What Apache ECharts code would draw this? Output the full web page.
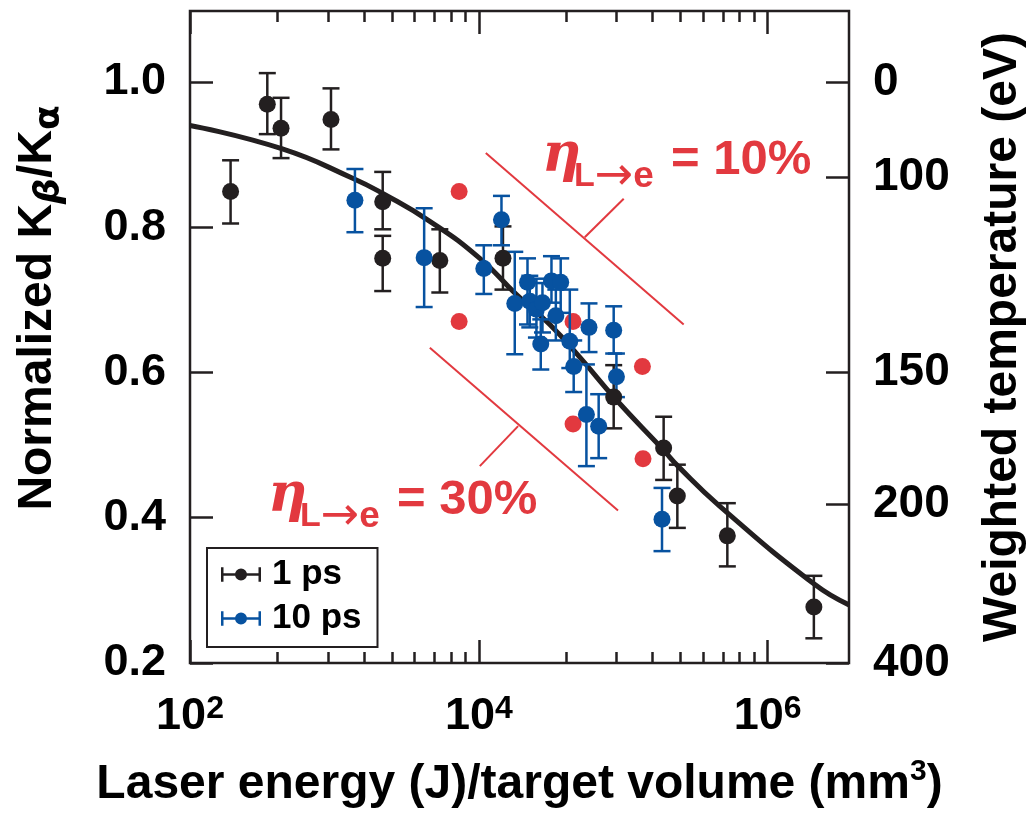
<!DOCTYPE html>
<html>
<head>
<meta charset="utf-8">
<script src="https://cdn.jsdelivr.net/npm/echarts@6/dist/echarts.min.js"></script>
<style>
  html, body { margin: 0; padding: 0; background: #ffffff; }
  #chart { width: 1035px; height: 818px; }
</style>
</head>
<body>
<div id="chart"></div>
<script>
// Laser energy per target volume (J/mm^3) and normalized Kβ/Kα, with error limits.
const energy1ps = [191, 343, 427, 947, 2160, 2160, 5370, 14700, 85900, 190500, 237000, 526000, 2090000];
const ratio1ps  = [0.849, 0.969, 0.936, 0.948, 0.835, 0.757, 0.754, 0.757, 0.566, 0.496, 0.430, 0.375, 0.277];
const upper1ps  = [0.892, 1.012, 0.978, 0.991, 0.876, 0.788, 0.797, 0.801, 0.610, 0.539, 0.473, 0.420, 0.320];
const lower1ps  = [0.805, 0.928, 0.895, 0.907, 0.797, 0.712, 0.710, 0.714, 0.523, 0.452, 0.386, 0.333, 0.234];

const energy10ps = [1387, 4183, 10830, 14350, 17740, 21730, 22540, 25060, 27590, 31850, 36900,
                    34150, 26860, 42660, 57940, 85900, 45400, 89740, 55600, 67600, 185600];
const ratio10ps  = [0.837, 0.758, 0.743, 0.810, 0.695, 0.724, 0.698, 0.687, 0.696, 0.726, 0.724,
                    0.678, 0.639, 0.643, 0.662, 0.658, 0.608, 0.594, 0.542, 0.526, 0.398];
const upper10ps  = [0.880, 0.826, 0.775, 0.843, 0.766, 0.757, 0.733, 0.729, 0.723, 0.760, 0.757,
                    0.714, 0.673, 0.714, 0.695, 0.691, 0.644, 0.626, 0.611, 0.570, 0.441];
const lower10ps  = [0.793, 0.690, 0.708, 0.775, 0.625, 0.666, 0.662, 0.648, 0.655, 0.696, 0.682,
                    0.644, 0.604, 0.606, 0.628, 0.626, 0.573, 0.566, 0.471, 0.482, 0.354];

// Points without error bars
const energyRed = [7306, 7306, 44940, 135800, 44940, 137100];
const ratioRed  = [0.849, 0.670, 0.670, 0.608, 0.529, 0.481];

// Fitted trend curve
const fitEnergy = [100, 431, 1349, 2178, 4581, 10160, 18240, 30990, 49970, 89740, 188400, 239300, 465300, 2090000, 3660000];
const fitRatio  = [0.940, 0.908, 0.867, 0.846, 0.808, 0.757, 0.707, 0.666, 0.621, 0.562, 0.494, 0.471, 0.416, 0.309, 0.280];

// Conversion-efficiency guide lines (η = 10 % and 30 %)
const eta10Line = [[11180, 0.902], [262200, 0.666]];
const eta10Tick = [[54150, 0.786], [100800, 0.839]];
const eta30Line = [[4580, 0.634], [92000, 0.410]];
const eta30Tick = [[18710, 0.526], [10160, 0.471]];

// Axis ticks
const xMajorTicks = [100, 10000, 1000000];
const xMinorTicks = [400, 900, 1600, 2500, 3600, 4900, 6400, 8100,
                     40000, 90000, 160000, 250000, 360000, 490000, 640000, 810000];
const ratioTicks  = [0.2, 0.4, 0.6, 0.8, 1.0];
const tempLabels  = [0, 100, 150, 200, 400];     // weighted temperature (eV)
const tempAtRatio = [1.0, 0.869, 0.600, 0.418, 0.2];

const INK = '#231f20';
const BLUE = '#0752a0';
const RED = '#e2393f';
const FONT = '"Liberation Sans", Arial, Helvetica, sans-serif';

const chart = echarts.init(document.getElementById('chart'), null, { renderer: 'canvas' });

function errorBarItem(params, api) {
  const x = api.value(0);
  const lo = api.coord([x, api.value(1)]);
  const hi = api.coord([x, api.value(2)]);
  const half = 8.5;
  const style = { stroke: api.visual('color'), lineWidth: 2.5 };
  return {
    type: 'group',
    children: [
      { type: 'line', shape: { x1: lo[0], y1: lo[1], x2: hi[0], y2: hi[1] }, style },
      { type: 'line', shape: { x1: lo[0] - half, y1: lo[1], x2: lo[0] + half, y2: lo[1] }, style },
      { type: 'line', shape: { x1: hi[0] - half, y1: hi[1], x2: hi[0] + half, y2: hi[1] }, style }
    ]
  };
}

const legendIcon = 'path://M0,7H40V9.5H0Z M0,1H2.5V15.5H0Z M37.5,1H40V15.5H37.5Z M14,8.25A6,6 0 1,1 26,8.25A6,6 0 1,1 14,8.25Z';

const xBase = { type: 'log', logBase: 10, min: 100, max: 3660000, gridIndex: 0,
                axisLine: { show: false }, splitLine: { show: false }, minorTick: { show: false } };
const tickLine = { color: INK, width: 2.5 };

function etaLabel(x, y, pct) {
  // η with subscript "L→e" followed by "= pct"
  return {
    type: 'group', left: x, top: y, silent: true,
    children: [
      { type: 'text', x: 0, y: 0,
        style: { text: 'η', fill: RED, font: 'italic bold 54px "DejaVu Serif", serif', verticalAlign: 'middle', align: 'left' } },
      { type: 'text', x: 32, y: 20,
        style: { text: '{l|L}{a|→}{e|e}', fill: RED, verticalAlign: 'middle', align: 'left',
                 rich: {
                   l: { fontFamily: FONT, fontWeight: 'bold', fontSize: 34, fill: RED },
                   a: { fontFamily: '"DejaVu Sans", sans-serif', fontSize: 46, fill: RED },
                   e: { fontFamily: FONT, fontWeight: 'bold', fontSize: 37, fill: RED }
                 } } },
      { type: 'text', x: 129, y: 3,
        style: { text: '= ' + pct + '%', fill: RED, font: 'bold 49px ' + FONT, verticalAlign: 'middle', align: 'left' } }
    ]
  };
}

const nameMain = { fontFamily: FONT, fontWeight: 'bold', fontSize: 48, color: '#000', verticalAlign: 'top', lineHeight: 54 };
const nameSub = { fontFamily: '"DejaVu Sans", sans-serif', fontWeight: 'bold', fontSize: 36, color: '#000', verticalAlign: 'bottom', lineHeight: 14 };

const option = {
  backgroundColor: '#ffffff',
  animation: false,
  grid: { left: 190, right: 186, top: 11, bottom: 150, show: true,
          borderColor: INK, borderWidth: 2.5, backgroundColor: 'transparent' },
  legend: {
    left: 207, top: 548, orient: 'vertical',
    data: [{ name: '1 ps', icon: legendIcon }, { name: '10 ps', icon: legendIcon }],
    itemWidth: 40, itemHeight: 16, itemGap: 9,
    padding: [9, 16, 11, 14],
    borderColor: INK, borderWidth: 2, backgroundColor: '#ffffff',
    selectedMode: false,
    textStyle: { fontFamily: FONT, fontWeight: 'bold', fontSize: 35, color: '#000', padding: [0, 0, 0, 6] }
  },
  xAxis: [
    Object.assign({}, xBase, {
      position: 'bottom',
      axisTick: { show: true, inside: true, length: 23, lineStyle: tickLine, customValues: xMajorTicks },
      axisLabel: { show: true, customValues: xMajorTicks, margin: 30,
        formatter: v => '10{sup|' + Math.round(Math.log10(v)) + '}',
        fontFamily: FONT, fontWeight: 'bold', fontSize: 45, color: '#000', lineHeight: 48,
        rich: { sup: { fontFamily: FONT, fontWeight: 'bold', fontSize: 32, color: '#000', verticalAlign: 'top', lineHeight: 17 } } },
      name: 'Laser energy (J)/target volume (mm{sup|3})',
      nameLocation: 'middle', nameGap: 94,
      nameTextStyle: { fontFamily: FONT, fontWeight: 'bold', fontSize: 48, color: '#000', lineHeight: 56,
        rich: { sup: { fontFamily: FONT, fontWeight: 'bold', fontSize: 30, color: '#000', verticalAlign: 'top', lineHeight: 30 } } }
    }),
    Object.assign({}, xBase, {
      position: 'bottom',
      axisTick: { show: true, inside: true, length: 11, lineStyle: tickLine, customValues: xMinorTicks },
      axisLabel: { show: false }
    }),
    Object.assign({}, xBase, {
      position: 'top',
      axisTick: { show: true, inside: true, length: 23, lineStyle: tickLine, customValues: xMajorTicks },
      axisLabel: { show: false }
    }),
    Object.assign({}, xBase, {
      position: 'top',
      axisTick: { show: true, inside: true, length: 11, lineStyle: tickLine, customValues: xMinorTicks },
      axisLabel: { show: false }
    })
  ],
  yAxis: [
    {
      type: 'value', position: 'left', min: 0.2, max: 1.0975,
      axisLine: { show: false }, splitLine: { show: false },
      axisTick: { show: true, inside: true, length: 23, lineStyle: tickLine, customValues: ratioTicks },
      axisLabel: { customValues: ratioTicks, formatter: v => v.toFixed(1), margin: 24,
        fontFamily: FONT, fontWeight: 'bold', fontSize: 45, color: '#000' },
      name: '{m|Normalized K}{b|β}{m|/K}{a|α}',
      nameLocation: 'middle', nameGap: 122,
      nameTextStyle: { fontFamily: FONT, fontWeight: 'bold', fontSize: 48, color: '#000',
        padding: [0, 0, 0, 58],
        rich: {
          m: nameMain,
          b: Object.assign({}, nameSub, { fontStyle: 'italic' }),
          a: nameSub
        } }
    },
    {
      type: 'value', position: 'right', min: 0.2, max: 1.0975,
      axisLine: { show: false }, splitLine: { show: false },
      axisTick: { show: true, inside: true, length: 23, lineStyle: tickLine, customValues: tempAtRatio },
      axisLabel: { customValues: tempAtRatio, margin: 24,
        formatter: v => {
          const i = tempAtRatio.findIndex(t => Math.abs(t - v) < 1e-6);
          return i >= 0 ? String(tempLabels[i]) : '';
        },
        fontFamily: FONT, fontWeight: 'bold', fontSize: 46, color: '#000' },
      name: 'Weighted temperature (eV)',
      nameLocation: 'middle', nameGap: 130,
      nameTextStyle: { fontFamily: FONT, fontWeight: 'bold', fontSize: 48, color: '#000' }
    }
  ],
  series: [
    {
      name: 'fit', type: 'line', xAxisIndex: 0, yAxisIndex: 0, smooth: true, symbol: 'none',
      data: fitEnergy.map((e, i) => [e, fitRatio[i]]),
      lineStyle: { color: INK, width: 5 }, z: 2, silent: true
    },
    {
      type: 'lines', coordinateSystem: 'cartesian2d', xAxisIndex: 0, yAxisIndex: 0, silent: true,
      lineStyle: { color: RED, width: 2, opacity: 1, curveness: 0 },
      data: [eta10Line, eta10Tick, eta30Line, eta30Tick].map(c => ({ coords: c })), z: 2
    },
    {
      name: 'red', type: 'scatter', xAxisIndex: 0, yAxisIndex: 0, symbolSize: 17,
      itemStyle: { color: RED, opacity: 1 }, data: energyRed.map((e, i) => [e, ratioRed[i]]), z: 3
    },
    {
      name: '1 ps', type: 'scatter', xAxisIndex: 0, yAxisIndex: 0, symbolSize: 17,
      itemStyle: { color: INK, opacity: 1 }, data: energy1ps.map((e, i) => [e, ratio1ps[i]]), z: 5
    },
    {
      name: '1 ps', type: 'custom', xAxisIndex: 0, yAxisIndex: 0, renderItem: errorBarItem,
      itemStyle: { color: INK }, encode: { x: 0, y: [1, 2] },
      data: energy1ps.map((e, i) => [e, lower1ps[i], upper1ps[i]]), z: 4
    },
    {
      name: '10 ps', type: 'scatter', xAxisIndex: 0, yAxisIndex: 0, symbolSize: 17,
      itemStyle: { color: BLUE, opacity: 1 }, data: energy10ps.map((e, i) => [e, ratio10ps[i]]), z: 5
    },
    {
      name: '10 ps', type: 'custom', xAxisIndex: 0, yAxisIndex: 0, renderItem: errorBarItem,
      itemStyle: { color: BLUE }, encode: { x: 0, y: [1, 2] },
      data: energy10ps.map((e, i) => [e, lower10ps[i], upper10ps[i]]), z: 4
    }
  ],
  graphic: [
    etaLabel(542, 130, 10),
    etaLabel(268, 470, 30)
  ]
};

chart.setOption(option);
</script>
</body>
</html>
